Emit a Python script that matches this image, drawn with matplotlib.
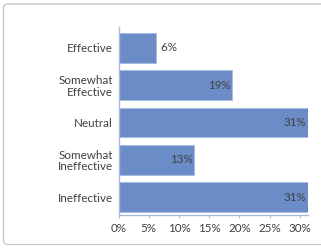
import matplotlib
matplotlib.use("Agg")
import matplotlib.pyplot as plt
from matplotlib.patches import FancyBboxPatch
from matplotlib.ticker import FuncFormatter

categories = ["Effective", "Somewhat\nEffective", "Neutral", "Somewhat\nIneffective", "Ineffective"]
values = [0.0625, 0.1875, 0.3125, 0.125, 0.3125]
value_labels = ["6%", "19%", "31%", "13%", "31%"]
xticks = [0, 0.05, 0.10, 0.15, 0.20, 0.25, 0.30]

plt.rcParams['font.family'] = ['Lato', 'DejaVu Sans']
FS = 8.4

W, H = 321, 249
fig = plt.figure(figsize=(W / 100, H / 100), dpi=100)

border = FancyBboxPatch((3.5 / W, 4.5 / H), (340 - 3.5) / W, (245 - 4.5) / H,
                        boxstyle="round,pad=0,rounding_size=0.015",
                        transform=fig.transFigure, facecolor="none",
                        edgecolor="#c8c8c8", linewidth=1.0, zorder=-1)
fig.patches.append(border)

ax = fig.add_axes([118.5 / W, 1 - 215 / H, (307.5 - 118.5) / W, (215 - 27) / H])
ax.patch.set_alpha(0)

ypos = list(range(len(categories)))
ax.barh(ypos, values, height=0.79, color="#6b8cc6", edgecolor="#a7badf", linewidth=0.6, zorder=2)

ax.set_yticks(ypos)
ax.set_yticklabels(categories, fontsize=FS, color="#404040", linespacing=1.05)
ax.set_ylim(4 + 0.48, -0.56)
ax.set_xlim(0, 0.3125)
ax.set_xticks(xticks)
ax.xaxis.set_major_formatter(FuncFormatter(lambda v, p: f"{round(v * 100):d}%"))
ax.tick_params(axis='x', labelsize=FS, labelcolor="#404040", length=2.5, width=0.8,
               color="#a7badf", pad=3)
ax.tick_params(axis='y', length=0, pad=4)

for s in ["top", "right"]:
    ax.spines[s].set_visible(False)
for s in ["left", "bottom"]:
    ax.spines[s].set_color("#a7badf")
    ax.spines[s].set_linewidth(1.0)

for y, v, lab in zip(ypos, values, value_labels):
    if v < 0.1:
        ax.text(v + 0.002, y, " " + lab, va="center", ha="left", fontsize=FS, color="#404040")
    else:
        ax.text(v - 0.002, y, lab, va="center", ha="right", fontsize=FS, color="#404040")

fig.savefig("out.png", dpi=100)
